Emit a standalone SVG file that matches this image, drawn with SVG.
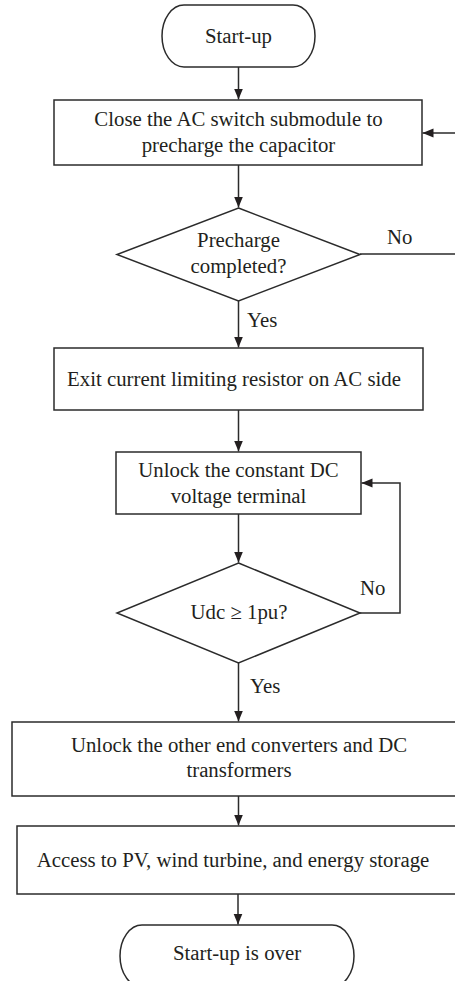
<svg xmlns="http://www.w3.org/2000/svg" width="455" height="981" viewBox="0 0 455 981">
  <style>
    .shape { fill: #ffffff; stroke: #2b2b2b; stroke-width: 1.5; }
    .link { fill: none; stroke: #2b2b2b; stroke-width: 1.5; }
    text { font-family: "Liberation Serif", "Times New Roman", serif; font-size: 20.8px; fill: #231f20; text-anchor: middle; }
    text.lbl { text-anchor: start; }
  </style>
  <defs>
    <marker id="arrow" markerUnits="userSpaceOnUse" markerWidth="12" markerHeight="12" viewBox="0 0 12 12" refX="11" refY="6" orient="auto">
      <path d="M0,1.5 L11,6 L0,10.5 Z" fill="#231f20"/>
    </marker>
  </defs>

  <rect width="455" height="981" fill="#ffffff"/>

  <!-- connectors -->
  <g id="connectors">
    <path class="link" d="M238.5,67 V99.5" marker-end="url(#arrow)"/>
    <path class="link" d="M238.5,165 V207.5" marker-end="url(#arrow)"/>
    <path class="link" d="M238.5,301 V347.5" marker-end="url(#arrow)"/>
    <path class="link" d="M360,254 H457 V133 H422.5" marker-end="url(#arrow)"/>
    <path class="link" d="M238.5,410 V451.5" marker-end="url(#arrow)"/>
    <path class="link" d="M238.5,514 V562.5" marker-end="url(#arrow)"/>
    <path class="link" d="M360,613 H400 V483 H361.5" marker-end="url(#arrow)"/>
    <path class="link" d="M238.5,663 V721.5" marker-end="url(#arrow)"/>
    <path class="link" d="M238.5,796 V825.5" marker-end="url(#arrow)"/>
    <path class="link" d="M238,894 V924.5" marker-end="url(#arrow)"/>
    <text class="lbl" x="387" y="244">No</text>
    <text class="lbl" x="247" y="327">Yes</text>
    <text class="lbl" x="360" y="595">No</text>
    <text class="lbl" x="250" y="693">Yes</text>
  </g>

  <!-- start terminal -->
  <g id="start">
    <rect class="shape" x="162" y="5" width="153" height="62" rx="22" ry="31"/>
    <text x="238.5" y="43">Start-up</text>
  </g>

  <g id="precharge-step">
    <rect class="shape" x="54" y="100" width="368" height="65"/>
    <text x="238.5" y="126">Close the AC switch submodule to</text>
    <text x="238.5" y="152">precharge the capacitor</text>
  </g>

  <g id="precharge-check">
    <polygon class="shape" points="238.5,208 360,254.5 238.5,301 117,254.5"/>
    <text x="238.5" y="247">Precharge</text>
    <text x="238.5" y="273">completed?</text>
  </g>

  <g id="exit-resistor">
    <rect class="shape" x="54" y="348" width="369" height="62"/>
    <text x="234" y="386">Exit current limiting resistor on AC side</text>
  </g>

  <g id="unlock-dc-terminal">
    <rect class="shape" x="116" y="452" width="245" height="62"/>
    <text x="238.5" y="477">Unlock the constant DC</text>
    <text x="238.5" y="503">voltage terminal</text>
  </g>

  <g id="udc-check">
    <polygon class="shape" points="238.5,563 360,613 238.5,663 117,613"/>
    <text x="239" y="619">Udc ≥ 1pu?</text>
  </g>

  <g id="unlock-converters">
    <rect class="shape" x="12" y="722" width="446" height="74"/>
    <text x="239" y="752">Unlock the other end converters and DC</text>
    <text x="239" y="777">transformers</text>
  </g>

  <g id="access-sources">
    <rect class="shape" x="17" y="826" width="441" height="68"/>
    <text x="233" y="867">Access to PV, wind turbine, and energy storage</text>
  </g>

  <!-- end terminal -->
  <g id="end">
    <rect class="shape" x="120" y="925" width="234" height="62" rx="22" ry="31"/>
    <text x="237" y="960">Start-up is over</text>
  </g>
</svg>
